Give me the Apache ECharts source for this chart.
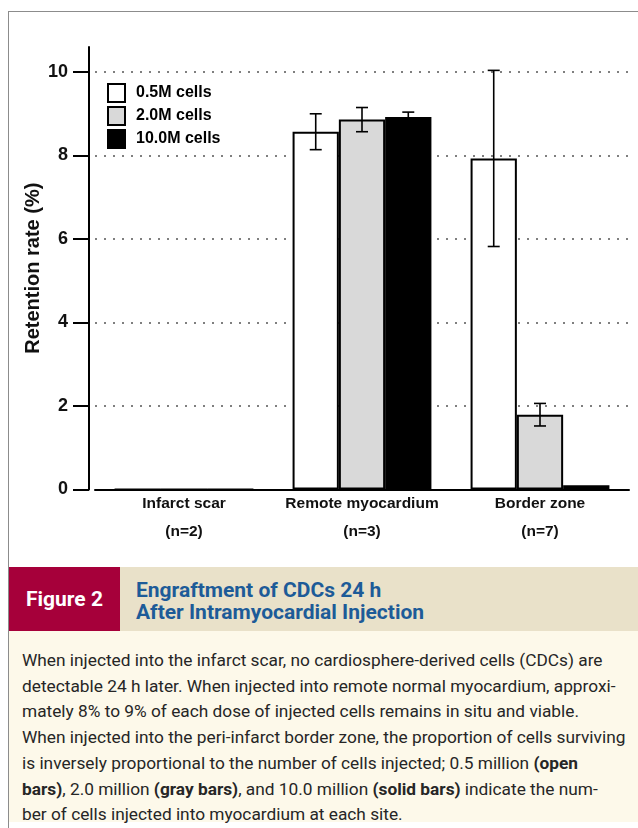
<!DOCTYPE html>
<html>
<head>
<meta charset="utf-8">
<script src="https://cdn.jsdelivr.net/npm/echarts@6/dist/echarts.min.js"></script>
<style>
  html, body { margin: 0; padding: 0; background: #fff; }
  body { width: 638px; height: 828px; position: relative; overflow: hidden; font-family: Roboto, 'Liberation Sans', sans-serif; }
  #frame { position: absolute; left: 8px; top: 11px; width: 640px; height: 830px; border-left: 1.5px solid #8c8c8c; border-top: 1.5px solid #8c8c8c; }
  #chart { position: absolute; left: 0; top: 0; width: 638px; height: 560px; }
  #band { position: absolute; left: 9px; top: 567px; width: 629px; height: 64px; background: #e9e1c9; }
  #fig { position: absolute; left: 0; top: 0; width: 111px; height: 64px; background: #a6003a; color: #fff; font-weight: bold; font-size: 21px; line-height: 64px; text-align: center; }
  #title { position: absolute; left: 127px; top: 12px; color: #1d5b98; font-weight: bold; font-size: 21px; line-height: 22px; }
  #body { position: absolute; left: 9px; top: 631px; width: 629px; height: 191px; background: #fdf9ea; }
  #text { position: absolute; left: 13px; top: 17px; width: 614px; color: #262626; font-size: 17.3px; line-height: 25.7px; }
  #text div { white-space: nowrap; }
</style>
</head>
<body>
<div id="frame"></div>
<div id="chart"></div>
<div id="band">
  <div id="fig">Figure 2</div>
  <div id="title">Engraftment of CDCs 24 h<br>After Intramyocardial Injection</div>
</div>
<div id="body">
  <div id="text">
    <div>When injected into the infarct scar, no cardiosphere-derived cells (CDCs) are</div>
    <div>detectable 24 h later. When injected into remote normal myocardium, approxi-</div>
    <div>mately 8% to 9% of each dose of injected cells remains in situ and viable.</div>
    <div>When injected into the peri-infarct border zone, the proportion of cells surviving</div>
    <div>is inversely proportional to the number of cells injected; 0.5 million <b>(open</b></div>
    <div><b>bars)</b>, 2.0 million <b>(gray bars)</b>, and 10.0 million <b>(solid bars)</b> indicate the num-</div>
    <div>ber of cells injected into myocardium at each site.</div>
  </div>
</div>
<script>
const categories = ['Infarct scar', 'Remote myocardium', 'Border zone']
const sampleSizes = ['(n=2)', '(n=3)', '(n=7)']
const seriesNames = ['0.5M cells', '2.0M cells', '10.0M cells']
const mean05 = [0, 8.57, 7.93]
const err05 = [0, 0.43, 2.11]
const mean20 = [0, 8.86, 1.79]
const err20 = [0, 0.29, 0.27]
const mean100 = [0, 8.92, 0.1]
const err100 = [0, 0.12, 0]
const yTicks = [0, 2, 4, 6, 8, 10]

const fills = ['#ffffff', '#d9d9d9', '#000000']
const means = [mean05, mean20, mean100]
const errs = [err05, err20, err100]
const gapPct = 22

const errData = []
means.forEach((m, s) => m.forEach((v, c) => {
  if (errs[s][c] > 0) errData.push([c, s, v, errs[s][c]])
}))

const font = "'Liberation Sans', Arial, sans-serif"
const chart = echarts.init(document.getElementById('chart'))

chart.setOption({
  animation: false,
  backgroundColor: 'transparent',
  textStyle: { fontFamily: font },
  grid: { left: 95, right: 9, top: 47, bottom: 70.6, outerBoundsMode: 'none' },
  legend: {
    orient: 'vertical', left: 107, top: 83, padding: 0,
    icon: 'rect', itemWidth: 17, itemHeight: 18, itemGap: 3,
    textStyle: { fontFamily: font, fontWeight: 'bold', fontSize: 16, lineHeight: 18, color: '#000', padding: [0, 0, 0, 6] },
    data: seriesNames
  },
  xAxis: {
    type: 'category', data: categories,
    axisLine: { lineStyle: { color: '#000', width: 2 } },
    axisTick: { show: false },
    axisLabel: {
      interval: 0, margin: 7, color: '#111', fontWeight: 'bold', fontSize: 15.5, lineHeight: 14,
      formatter: (v, i) => v + '\n\n' + sampleSizes[i]
    }
  },
  yAxis: {
    type: 'value', min: 0, max: 10.6, offset: 6,
    name: 'Retention rate (%)', nameLocation: 'middle', nameRotate: 90, nameGap: 46,
    nameMoveOverlap: false,
    nameTextStyle: { fontFamily: font, fontWeight: 'bold', fontSize: 20, color: '#111' },
    axisLine: { show: true, lineStyle: { color: '#000', width: 2 } },
    axisTick: { show: true, length: 16, lineStyle: { color: '#000', width: 2 }, customValues: yTicks },
    axisLabel: { margin: 21, color: '#111', fontWeight: 'bold', fontSize: 18, customValues: yTicks },
    splitLine: { show: true, lineStyle: { color: '#555', width: 1.5, type: [2, 7] } }
  },
  series: [
    ...seriesNames.map((n, s) => ({
      name: n, type: 'bar', data: means[s],
      barGap: '0%', barCategoryGap: gapPct + '%',
      itemStyle: { color: fills[s], borderColor: '#000', borderWidth: 2 },
      z: 2
    })),
    {
      type: 'custom', data: errData, z: 5, silent: true,
      encode: { x: 0, y: 2 },
      renderItem(params, api) {
        const c = api.value(0), s = api.value(1), m = api.value(2), e = api.value(3)
        const band = api.size([1, 0])[0]
        const barW = band * (1 - gapPct / 100) / 3
        const x = api.coord([c, m])[0] + (s - 1) * barW
        const yt = api.coord([c, m + e])[1]
        const yb = api.coord([c, m - e])[1]
        const cap = 6
        const st = { stroke: '#000', lineWidth: 1.6 }
        return {
          type: 'group',
          children: [
            { type: 'line', shape: { x1: x, y1: yt, x2: x, y2: yb }, style: st },
            { type: 'line', shape: { x1: x - cap, y1: yt, x2: x + cap, y2: yt }, style: st },
            { type: 'line', shape: { x1: x - cap, y1: yb, x2: x + cap, y2: yb }, style: st }
          ]
        }
      }
    }
  ]
})
</script>
</body>
</html>
